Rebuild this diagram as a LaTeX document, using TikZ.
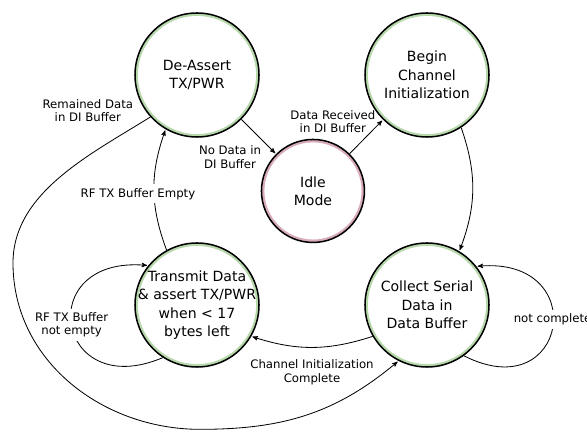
\documentclass[tikz,border=0pt]{standalone}
\usepackage{fontspec}
\setmainfont{DejaVu Sans}
\usetikzlibrary{automata, arrows}
\usepackage{color}

\definecolor{ringgreen}{RGB}{182,216,170}
\definecolor{ringpink}{RGB}{216,172,188}

\tikzset{
  every state/.style={draw=black, line width=1.3pt, fill=white, minimum size=3.72cm,
    inner sep=-8pt, align=center, font=\fontsize{12}{15.6}\selectfont},
  ring/.style 2 args={path picture={\draw[#1, line width=5pt, -] (path picture bounding box.center) circle[radius=#2];}},
  lbl/.style={font=\fontsize{10}{11.2}\selectfont, align=center},
  online/.style={lbl, fill=white, auto=false},
}

\begin{document}
\begin{tikzpicture}[->,>=stealth',shorten >=1pt,auto,node distance=6.9cm,line width=0.7pt]
            \useasboundingbox (0,0) rectangle (17.61,12.93);

            \node[state, ring={ringgreen}{1.86cm}] (deassert) at (5.91,10.68) {De-Assert\\TX/PWR};
            \node[state, ring={ringgreen}{1.86cm}] (begin) [right of = deassert] {Begin\\Channel\\Initialization};
            \node[state, ring={ringgreen}{1.86cm}] (transmit) [below of = deassert] {Transmit Data\\\& assert TX/PWR\\when < 17\\bytes left};
            \node[state, ring={ringgreen}{1.86cm}] (collect) [below of = begin] {Collect Serial\\Data in\\Data Buffer};
            \node[state, minimum size=3.09cm, ring={ringpink}{1.545cm}] (idle) [below right of = deassert, node distance=4.92cm] {Idle\\Mode};

            \coordinate (farleft) at (0.39,5.04);
            \coordinate (farbottom) at (6.0,0.05);

            \path
            (deassert) edge node[lbl, swap, xshift=2mm, yshift=-1.5mm] {No Data in\\DI Buffer} (idle)
            (idle) edge node[lbl, xshift=4mm] {Data Received\\in DI Buffer} (begin)
            (begin.-57) edge [bend left=20] (collect.59)
            (collect.-54) edge [out=-27, in=5, looseness=3.3] node[online, yshift=2.4mm] {not complete} (collect.38)
            (collect.210) edge [bend left=18] node[lbl, yshift=-2.5mm] {Channel Initialization\\Complete} (transmit.-30)
            (transmit.237) edge [out=203, in=175, looseness=3.2] node[online] {RF TX Buffer\\not empty} (transmit.141)
            (transmit.119) edge [bend left=20] node[online, xshift=-4.8mm, yshift=-1.2mm] {RF TX Buffer Empty} (deassert.240)
            ;
            \draw (deassert.222) to[out=212, in=90, looseness=0.9] node[lbl, auto=false, pos=0, anchor=east, xshift=-3.9mm, yshift=1.8mm] {Remained Data\\in DI Buffer} (farleft)
                to[out=-90, in=180] (farbottom) to[out=0, in=220] (collect.243);
        \end{tikzpicture}
\end{document}
